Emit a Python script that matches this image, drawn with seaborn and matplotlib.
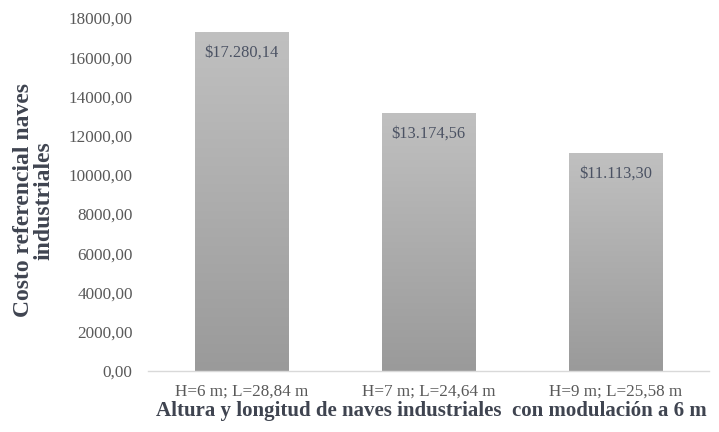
import numpy as np
import pandas as pd
import seaborn as sns
import matplotlib.pyplot as plt
from matplotlib.colors import LinearSegmentedColormap

categorias = ["H=6 m; L=28,84 m", "H=7 m; L=24,64 m", "H=9 m; L=25,58 m"]
costos = [17280.14, 13174.56, 11113.30]
etiquetas = ["$17.280,14", "$13.174,56", "$11.113,30"]
yticks = [0, 2000, 4000, 6000, 8000, 10000, 12000, 14000, 16000, 18000]

sns.set_theme(style="white")
plt.rcParams['font.family'] = ['Liberation Serif', 'DejaVu Serif']

df = pd.DataFrame({"cat": categorias, "costo": costos})

fig = plt.figure(figsize=(7.19, 4.32), dpi=100)
ax = fig.add_axes([0.2058, 0.1412, 0.7803, 0.8171])
sns.barplot(data=df, x="cat", y="costo", color="#b0b0b0", width=0.5, ax=ax)

ax.set_ylim(0, 18000)
ax.set_xlim(-0.5, 2.5)

# gradient fill on each bar
cmap = LinearSegmentedColormap.from_list("g", ["#9a9a9a", "#c0c0c0"])
grad = np.linspace(0, 1, 256).reshape(-1, 1)
for p in ax.patches:
    x0, y0 = p.get_x(), p.get_y()
    w, h = p.get_width(), p.get_height()
    im = ax.imshow(grad, cmap=cmap, aspect="auto", origin="lower",
                   extent=[x0, x0 + w, y0, y0 + h], zorder=p.get_zorder())
    im.set_clip_path(p)
    p.set_edgecolor("#c8c8c8")
    p.set_linewidth(0.6)

ax.set_xlim(-0.5, 2.5)
ax.set_ylim(0, 18000)

for i, (v, t) in enumerate(zip(costos, etiquetas)):
    ax.annotate(t, xy=(i, v), xytext=(0, -21), textcoords="offset pixels",
                ha="center", va="center", fontsize=11.8, color="#4b5263", zorder=5)

ax.set_yticks(yticks)
ax.set_yticklabels([f"{v:.2f}".replace(".", ",") for v in yticks])
ax.tick_params(axis="both", length=0, colors="#595959", labelsize=12.3)
ax.tick_params(axis="y", pad=11)
ax.tick_params(axis="x", pad=9)

for s in ["top", "right", "left"]:
    ax.spines[s].set_visible(False)
ax.spines["bottom"].set_color("#d9d9d9")
ax.spines["bottom"].set_linewidth(1.0)

ax.set_xlabel("Altura y longitud de naves industriales  con modulación a 6 m",
              fontsize=15, fontweight="bold", color="#3f4450", va="center")
ax.xaxis.set_label_coords(0.5045, -0.113)
ax.set_ylabel("Costo referencial naves\nindustriales",
              fontsize=17, fontweight="bold", color="#3f4450",
              linespacing=1.0, va="center")
ax.yaxis.set_label_coords(-0.2034, 0.484)

fig.savefig("out.png", dpi=100)
